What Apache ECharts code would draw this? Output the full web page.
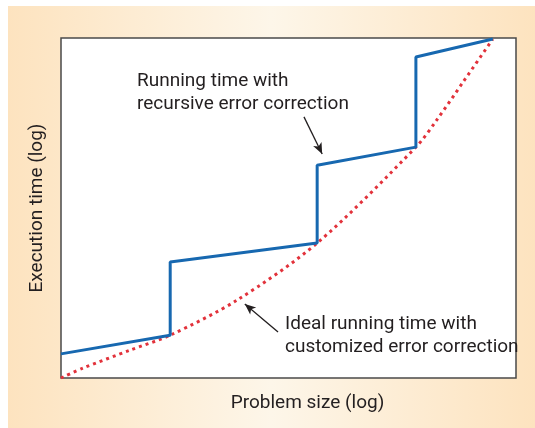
<!DOCTYPE html>
<html><head><meta charset="utf-8">
<script src="https://cdn.jsdelivr.net/npm/echarts@6/dist/echarts.min.js"></script>
<style>html,body{margin:0;padding:0;background:#fff}#c{width:535px;height:428px}</style>
</head><body><div id="c"></div>
<script>
// Problem size (log) values, 0..100 relative scale
const stepX = [0, 24, 24, 56.3, 56.3, 78, 78, 94.9];
const stepY = [7.1, 12.6, 34.1, 39.7, 62.6, 67.9, 94.4, 99.7];
const idealX = [0, 4.8, 15.2, 24, 38.7, 56.3, 78, 82.6, 88.4, 94.9];
const idealY = [0, 2.9, 8.2, 12.6, 22.9, 39.7, 67.9, 75.9, 87.1, 99.7];
const xName = 'Problem size (log)';
const yName = 'Execution time (log)';
const note1 = 'Running time with\nrecursive error correction';
const note2 = 'Ideal running time with\ncustomized error correction';

const font = 'Roboto, "Liberation Sans", sans-serif';
const chart = echarts.init(document.getElementById('c'), null, {renderer: 'canvas'});
chart.setOption({
  backgroundColor: '#ffffff',
  animation: false,
  graphic: [
    {type: 'rect', z: -10, silent: true, shape: {x: 8, y: 6, width: 527, height: 422},
     style: {fill: {type: 'linear', x: 0, y: 0, x2: 1, y2: 0, colorStops: [
       {offset: 0, color: '#fde3bf'}, {offset: 0.5, color: '#fdf6e9'}, {offset: 1, color: '#fde3bf'}]}}},
    {type: 'text', left: 137, top: 70, z: 10, style: {text: note1, font: '19px ' + font, fill: '#231f20', lineHeight: 23}},
    {type: 'text', left: 285, top: 313, z: 10, style: {text: note2, font: '19px ' + font, fill: '#231f20', lineHeight: 23}}
  ],
  grid: {left: 61, top: 38, right: 19, bottom: 50, show: true, backgroundColor: '#ffffff', borderColor: '#4a4a4a', borderWidth: 1.5},
  xAxis: {type: 'value', min: 0, max: 100, name: xName, nameLocation: 'middle', nameGap: 16,
    nameTextStyle: {fontFamily: font, fontSize: 19, color: '#231f20', verticalAlign: 'top', padding: [0, 0, 0, 38]},
    axisLine: {show: false}, axisTick: {show: false}, axisLabel: {show: false}, splitLine: {show: false}},
  yAxis: {type: 'value', min: 0, max: 100, name: yName, nameLocation: 'middle', nameGap: 14,
    nameTextStyle: {fontFamily: font, fontSize: 19, color: '#231f20'},
    axisLine: {show: false}, axisTick: {show: false}, axisLabel: {show: false}, splitLine: {show: false}},
  series: [
    {type: 'line', data: idealX.map((x, i) => [x, idealY[i]]), smooth: 0.3, symbol: 'none', z: 3,
     lineStyle: {color: '#e2323b', width: 3, type: [3, 4]}},
    {type: 'line', data: stepX.map((x, i) => [x, stepY[i]]), symbol: 'none', z: 4,
     lineStyle: {color: '#1768b0', width: 3},
     markLine: {silent: true, symbol: ['none', 'arrow'], symbolSize: [7, 11], label: {show: false},
       lineStyle: {color: '#231f20', width: 1.3, type: 'solid'},
       data: [
         [{coord: [53.4, 76.8]}, {coord: [57.4, 65.9]}],
         [{coord: [47.7, 13.5]}, {coord: [40.4, 21.8]}]
       ]}}
  ]
});
</script></body></html>
